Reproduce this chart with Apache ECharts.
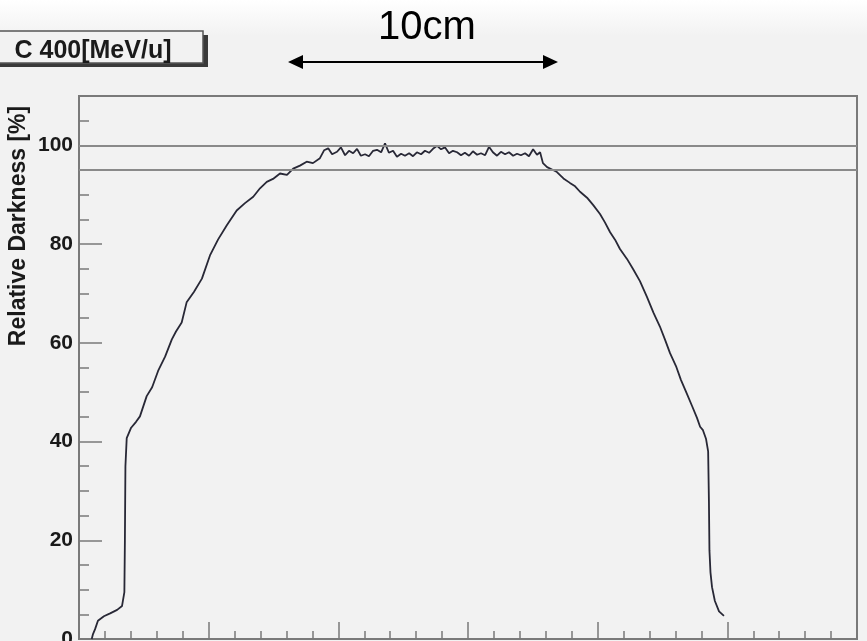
<!DOCTYPE html>
<html>
<head>
<meta charset="utf-8">
<title>C 400[MeV/u]</title>
<script src="https://cdn.jsdelivr.net/npm/echarts@6.0.0/dist/echarts.min.js"></script>
<style>
    html, body { margin: 0; padding: 0; background: #f2f2f2; }
    #chart { width: 867px; height: 641px; }
</style>
</head>
<body>
<div id="chart"></div>
<script>
// lateral position (cm, arbitrary origin) and measured darkness
const positions = [
    0.49, 0.54, 0.62, 0.73, 0.96, 1.20, 1.47, 1.66, 1.75, 1.77, 1.79, 1.84, 2.01, 2.20, 2.35, 2.61,
    2.82, 3.05, 3.32, 3.58, 3.74, 3.96, 4.15, 4.43, 4.74, 5.05, 5.36, 5.70, 6.08, 6.40, 6.72, 6.98,
    7.24, 7.48, 7.75, 8.02, 8.26, 8.52, 8.78, 9.02, 9.29, 9.45, 9.61, 9.76,
    9.95, 10.10, 10.26, 10.41, 10.57, 10.72, 10.87, 11.03, 11.18, 11.34, 11.49, 11.65, 11.80, 11.95,
    12.11, 12.26, 12.42, 12.57, 12.73, 12.88, 13.03, 13.19, 13.34, 13.50, 13.65, 13.81, 13.96, 14.11,
    14.27, 14.42, 14.58, 14.73, 14.88, 15.04, 15.19, 15.35, 15.50, 15.66, 15.81, 15.96, 16.12, 16.27,
    16.43, 16.58, 16.74, 16.89, 17.04, 17.20, 17.35, 17.51, 17.66, 17.78,
    17.89, 18.05, 18.24, 18.43, 18.68, 18.93, 19.13, 19.32, 19.59, 19.83, 20.09, 20.28, 20.48, 20.67,
    20.86, 21.13, 21.37, 21.63, 21.90, 22.15, 22.40, 22.60, 22.79, 23.02, 23.21, 23.43, 23.64, 23.83,
    23.95, 24.06, 24.18, 24.26, 24.29, 24.31, 24.35, 24.41, 24.52, 24.68, 24.87
];
const darkness = [
    0, 1.0, 2.0, 3.7, 4.6, 5.2, 5.9, 6.7, 9.5, 20, 35, 40.7, 42.8, 44.0, 45.1, 49.2,
    51.0, 54.3, 57.2, 60.7, 62.3, 64.1, 68.2, 70.3, 73.0, 77.7, 80.9, 83.8, 86.8, 88.3, 89.6, 91.3,
    92.6, 93.2, 94.3, 94.0, 95.3, 95.9, 96.7, 96.4, 97.4, 99.0, 99.4, 98.2,
    98.7, 99.6, 98.0, 98.9, 98.4, 99.3, 97.9, 98.2, 97.8, 98.9, 99.1, 98.6, 100.4, 98.5,
    98.9, 97.7, 98.3, 97.9, 98.4, 97.8, 98.6, 98.2, 98.9, 98.5, 99.3, 99.9, 99.2, 99.6,
    98.4, 98.9, 98.6, 98.0, 98.5, 97.9, 98.8, 98.1, 98.4, 98.0, 99.7, 98.6, 97.9, 98.7,
    98.2, 98.6, 97.9, 98.3, 98.0, 98.4, 97.8, 99.2, 98.1, 98.6,
    96.4, 95.6, 95.1, 94.6, 93.3, 92.4, 91.7, 90.6, 89.4, 87.9, 86.1, 84.4, 82.4, 80.9,
    79.0, 77.0, 74.9, 72.5, 69.3, 66.1, 63.3, 60.6, 57.9, 55.3, 52.5, 49.8, 47.2, 44.8,
    43.0, 42.3, 40.5, 38.0, 28.0, 18.0, 13.5, 10.5, 7.7, 5.6, 4.7
];
const refLines = [100, 95];
const titleText = 'C 400[MeV/u]';
const yTitle = 'Relative Darkness [%]';
const spanText = '10cm';

const FONT = "'Liberation Sans', Arial, sans-serif";
const AXIS_GREY = '#7a7a7a';

let chart = echarts.init(document.getElementById('chart'), null, { renderer: 'canvas' });

let option = {
    animation: false,
    backgroundColor: '#f2f2f2',
    grid: {
        left: 79, right: 10, top: 96, bottom: 2,
        show: true,
        borderColor: AXIS_GREY,
        borderWidth: 2,
        backgroundColor: 'transparent',
        containLabel: false,
        outerBoundsMode: 'none'
    },
    xAxis: {
        type: 'value',
        min: 0, max: 30, interval: 5,
        axisLine: { show: true, lineStyle: { color: AXIS_GREY, width: 2 } },
        axisTick: { show: true, inside: true, length: 17, lineStyle: { color: AXIS_GREY, width: 1.5 } },
        minorTick: { show: true, splitNumber: 5, length: 8, lineStyle: { color: AXIS_GREY, width: 1.5 } },
        axisLabel: { show: false },
        splitLine: { show: false },
        minorSplitLine: { show: false }
    },
    yAxis: [
        {
            type: 'value',
            min: 0, max: 110, interval: 20,
            axisLine: { show: true, lineStyle: { color: AXIS_GREY, width: 2 } },
            axisTick: { show: true, inside: true, length: 23, lineStyle: { color: AXIS_GREY, width: 1.5 } },
            axisLabel: {
                show: true, margin: 6, showMaxLabel: false,
                fontFamily: FONT, fontSize: 21, fontWeight: 'bold', color: '#1a1a1a'
            },
            splitLine: { show: false }
        },
        {
            // minor ticks every 5 %
            type: 'value',
            position: 'left',
            min: 0, max: 110, interval: 5,
            axisLine: { show: false },
            axisTick: { show: true, inside: true, length: 10, lineStyle: { color: AXIS_GREY, width: 1.5 } },
            axisLabel: { show: false },
            splitLine: { show: false }
        }
    ],
    series: [{
        type: 'line',
        data: positions.map((x, i) => [x, darkness[i]]),
        showSymbol: false,
        smooth: false,
        lineStyle: { color: '#282836', width: 1.8 },
        markLine: {
            silent: true,
            symbol: 'none',
            label: { show: false },
            lineStyle: { color: '#8a8a8a', width: 2, type: 'solid' },
            data: refLines.map(v => ({ yAxis: v }))
        }
    }],
    graphic: [
        {
            type: 'rect', z: -10,
            shape: { x: 0, y: 0, width: 867, height: 36 },
            style: {
                fill: new echarts.graphic.LinearGradient(0, 0, 0, 1, [
                    { offset: 0, color: '#ffffff' },
                    { offset: 1, color: '#f2f2f2' }
                ])
            }
        },
        // title box with shadow
        {
            type: 'rect',
            shape: { x: 0, y: 35, width: 208, height: 32 },
            style: { fill: '#3a3a3a' }
        },
        {
            type: 'rect',
            shape: { x: -3, y: 31, width: 206, height: 32 },
            style: { fill: '#f2f2f2', stroke: '#555', lineWidth: 1.5 }
        },
        {
            type: 'text',
            x: 93, y: 51,
            style: {
                text: titleText, fill: '#1a1a1a',
                font: 'bold 25px ' + FONT,
                align: 'center', verticalAlign: 'middle'
            }
        },
        // y axis title
        {
            type: 'text',
            x: 19, y: 226,
            rotation: Math.PI / 2,
            style: {
                text: yTitle, fill: '#1a1a1a',
                font: 'bold 23px ' + FONT,
                align: 'center', verticalAlign: 'middle'
            }
        },
        // 10cm annotation
        {
            type: 'text',
            x: 427, y: 28,
            style: {
                text: spanText, fill: '#000',
                font: '40px ' + FONT,
                align: 'center', verticalAlign: 'middle'
            }
        },
        {
            type: 'line',
            shape: { x1: 296, y1: 62, x2: 550, y2: 62 },
            style: { stroke: '#000', lineWidth: 2 }
        },
        {
            type: 'polygon',
            shape: { points: [[288, 62], [303, 55], [303, 69]] },
            style: { fill: '#000' }
        },
        {
            type: 'polygon',
            shape: { points: [[558, 62], [543, 55], [543, 69]] },
            style: { fill: '#000' }
        }
    ]
};

chart.setOption(option);
</script>
</body>
</html>
